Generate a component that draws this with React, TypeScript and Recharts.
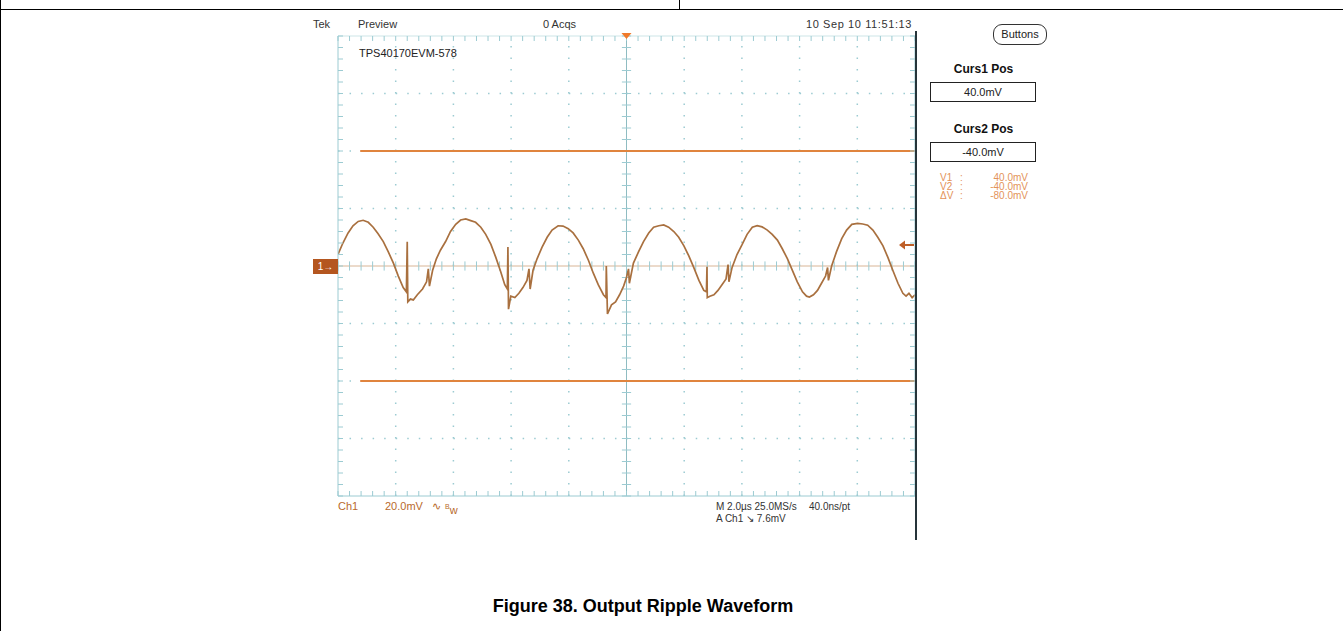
import { LineChart, Line, XAxis, YAxis, ReferenceLine, ReferenceDot } from "recharts";

// time (µs from left edge of screen, 2 µs/div) and ripple (mV, 20 mV/div)
const TIME_US = [
  0.0, 0.17, 0.35, 0.52, 0.7, 0.87, 1.05, 1.22, 1.39, 1.57, 1.74, 1.92, 2.09, 2.26, 2.37, 2.4, 2.42, 2.51, 2.61, 2.75,
  2.93, 3.07, 3.13, 3.17, 3.28, 3.41, 3.55, 3.73, 3.9, 4.08, 4.25, 4.43, 4.6, 4.77, 4.95, 5.12, 5.3, 5.47, 5.64, 5.78,
  5.87, 5.89, 5.91, 5.99, 6.13, 6.27, 6.41, 6.55, 6.62, 6.66, 6.76, 6.9, 7.07, 7.25, 7.42, 7.63, 7.8, 7.98, 8.15, 8.33,
  8.5, 8.68, 8.85, 9.02, 9.2, 9.29, 9.3, 9.34, 9.48, 9.62, 9.76, 9.9, 10.0, 10.07, 10.1, 10.24, 10.42, 10.59, 10.77,
  10.94, 11.12, 11.29, 11.46, 11.64, 11.81, 11.99, 12.16, 12.33, 12.51, 12.68, 12.77, 12.79, 12.8, 12.89, 13.03, 13.17,
  13.31, 13.45, 13.52, 13.55, 13.66, 13.83, 14.01, 14.18, 14.36, 14.53, 14.7, 14.88, 15.05, 15.23, 15.4, 15.58, 15.75,
  15.92, 16.1, 16.24, 16.34, 16.48, 16.62, 16.76, 16.9, 16.97, 17.0, 17.11, 17.28, 17.46, 17.63, 17.81, 18.01, 18.19,
  18.36, 18.54, 18.71, 18.89, 19.06, 19.23, 19.41, 19.58, 19.69, 19.79, 19.9, 20.0,
];
const RIPPLE_MV = [
  4.0, 8.0, 11.5, 14.0, 15.5, 15.9, 15.2, 13.5, 11.2, 8.5, 5.0, 1.0, -3.5, -7.5, -9.0, 8.4, -12.5, -11.5, -11.8, -10.0,
  -8.0, -5.5, -1.0, -7.0, -1.5, 2.5, 5.5, 8.5, 12.0, 14.5, 16.0, 16.4, 15.8, 15.2, 13.5, 11.0, 7.5, 3.0, -2.0, -6.5,
  -8.0, 6.6, -15.0, -10.5, -11.0, -9.5, -7.5, -5.0, -1.0, -8.0, -1.5, 2.5, 6.5, 10.0, 12.5, 14.0, 13.9, 13.0, 11.5, 9.0,
  6.0, 2.0, -2.5, -6.5, -10.0, -11.0, 0.0, -16.7, -13.5, -12.5, -10.0, -7.0, -4.0, -1.0, -6.0, 1.0, 5.0, 8.5, 11.5,
  13.5, 14.0, 14.3, 13.5, 12.0, 10.0, 7.0, 3.5, -0.5, -5.0, -8.5, -9.0, -0.3, -11.0, -10.5, -10.0, -8.5,
  -6.5, -4.5, 0.5, -5.5, -0.5, 4.0, 7.5, 11.0, 13.5, 14.0, 13.6, 12.5, 11.0, 9.0, 6.0, 2.5, -1.5,
  -5.5, -9.0, -10.5, -10.8, -10.0, -8.5, -6.0, -3.5, -0.5, -5.0, 0.0, 5.0, 9.5, 12.5, 14.5, 14.8, 14.6,
  14.2, 12.5, 10.0, 7.0, 3.0, -1.5, -6.0, -9.5, -10.5, -9.5, -11.0, -10.0,
];

const CURSORS_MV = [40, -40];
const CURSOR_START_US = 0.77;
const TRIGGER_US = 10;

const READOUT_LABELS = ["V1", "V2", "ΔV"];
const READOUT_VALUES = ["40.0mV", "-40.0mV", "-80.0mV"];

const X_DIVS = 10;
const Y_DIVS = 8;
const US_PER_DIV = 2;
const MV_PER_DIV = 20;
const MINOR = 5;

const X_MAX = X_DIVS * US_PER_DIV;
const Y_MAX = (Y_DIVS / 2) * MV_PER_DIV;
const MAJOR_T = Array.from({ length: X_DIVS + 1 }, (_, i) => i * US_PER_DIV);
const MAJOR_V = Array.from({ length: Y_DIVS + 1 }, (_, i) => -Y_MAX + i * MV_PER_DIV);
const MINOR_T = Array.from({ length: X_DIVS * MINOR + 1 }, (_, i) => (i * US_PER_DIV) / MINOR);
const MINOR_V = Array.from({ length: Y_DIVS * MINOR + 1 }, (_, i) => -Y_MAX + (i * MV_PER_DIV) / MINOR);

const data = TIME_US.map((t, i) => ({ t, v: RIPPLE_MV[i] }));

const GRID = "#9ccbd2";
const TRACE = "#a9703f";
const CURSOR = "#e0843e";
const FONT = "'Liberation Sans', Arial, sans-serif";

const noLabel = () => <g />;

function Txt({ x, y, children, color = "#333", size = 11, bold = false, style = {} }: any) {
  return (
    <div
      style={{
        position: "absolute",
        left: x,
        top: y,
        fontFamily: FONT,
        fontSize: size,
        lineHeight: `${size}px`,
        fontWeight: bold ? "bold" : "normal",
        color,
        whiteSpace: "nowrap",
        ...style,
      }}
    >
      {children}
    </div>
  );
}

function Box({ y, text }: { y: number; text: string }) {
  return (
    <div
      style={{
        position: "absolute",
        left: 930,
        top: y,
        width: 104,
        height: 18,
        border: "1.5px solid #222",
        fontFamily: FONT,
        fontSize: 11,
        lineHeight: "18px",
        textAlign: "center",
        color: "#222",
      }}
    >
      {text}
    </div>
  );
}

export default function App() {
  const tickX = (MV_PER_DIV / MINOR) * 0.4;
  const tickT = (US_PER_DIV / MINOR) * 0.4;
  return (
    <div style={{ position: "absolute", left: 0, top: 0, width: 1343, height: 631, background: "#fff", overflow: "hidden" }}>
      {/* page table borders */}
      <div style={{ position: "absolute", left: 0, top: 9, width: 1343, height: 1, background: "#000" }} />
      <div style={{ position: "absolute", left: 679, top: 0, width: 1, height: 9, background: "#000" }} />
      <div style={{ position: "absolute", left: 0, top: 0, width: 1, height: 631, background: "#000" }} />

      {/* scope header */}
      <Txt x={313} y={19}>Tek</Txt>
      <Txt x={358} y={19}>Preview</Txt>
      <Txt x={543} y={19}>0 Acqs</Txt>
      <Txt x={806} y={19} style={{ letterSpacing: 0.6 }}>10 Sep 10 11:51:13</Txt>

      <div style={{ position: "absolute", left: 300, top: 20 }}>
        <LineChart width={640} height={520} data={data} margin={{ top: 16, right: 25, bottom: 44, left: 38 }}>
          <XAxis
            xAxisId={0}
            type="number"
            dataKey="t"
            domain={[0, X_MAX]}
            ticks={MINOR_T}
            interval={0}
            orientation="bottom"
            mirror
            tickSize={5}
            tick={noLabel}
            axisLine={{ stroke: GRID }}
            tickLine={{ stroke: GRID }}
            allowDataOverflow
          />
          <XAxis
            xAxisId="top"
            type="number"
            dataKey="t"
            domain={[0, X_MAX]}
            ticks={MINOR_T}
            interval={0}
            orientation="top"
            mirror
            tickSize={5}
            tick={noLabel}
            axisLine={{ stroke: GRID, strokeOpacity: 0.5 }}
            tickLine={{ stroke: GRID }}
            allowDataOverflow
          />
          <YAxis
            yAxisId={0}
            type="number"
            dataKey="v"
            domain={[-Y_MAX, Y_MAX]}
            ticks={MINOR_V}
            interval={0}
            orientation="left"
            mirror
            tickSize={5}
            tick={noLabel}
            axisLine={{ stroke: GRID }}
            tickLine={{ stroke: GRID }}
            allowDataOverflow
          />
          <YAxis
            yAxisId="right"
            type="number"
            dataKey="v"
            domain={[-Y_MAX, Y_MAX]}
            ticks={MINOR_V}
            interval={0}
            orientation="right"
            mirror
            tickSize={5}
            tick={noLabel}
            axisLine={{ stroke: GRID }}
            tickLine={{ stroke: GRID }}
            allowDataOverflow
          />

          {/* dotted graticule */}
          {MAJOR_T.slice(1, -1)
            .filter((t) => t !== TRIGGER_US)
            .map((t) => (
              <ReferenceLine key={`gx${t}`} x={t} stroke={GRID} strokeWidth={1.5} strokeDasharray="1.5 10" />
            ))}
          {MAJOR_V.slice(1, -1)
            .filter((v) => v !== 0)
            .map((v) => (
              <ReferenceLine key={`gy${v}`} y={v} stroke={GRID} strokeWidth={1.5} strokeDasharray="1.5 10.04" />
            ))}

          {/* center cross with minor ticks */}
          <ReferenceLine x={TRIGGER_US} stroke="#8fbcc2" strokeWidth={1} />
          <ReferenceLine y={0} stroke="#d8b596" strokeWidth={1} />
          {MINOR_T.map((t) => (
            <ReferenceLine
              key={`cx${t}`}
              segment={[
                { x: t, y: -tickX },
                { x: t, y: tickX },
              ]}
              stroke={GRID}
            />
          ))}
          {MINOR_V.map((v) => (
            <ReferenceLine
              key={`cy${v}`}
              segment={[
                { x: TRIGGER_US - tickT, y: v },
                { x: TRIGGER_US + tickT, y: v },
              ]}
              stroke={GRID}
            />
          ))}

          {/* cursors */}
          {CURSORS_MV.map((c) => (
            <ReferenceLine
              key={`cur${c}`}
              segment={[
                { x: CURSOR_START_US, y: c },
                { x: X_MAX, y: c },
              ]}
              stroke={CURSOR}
              strokeWidth={2}
            />
          ))}

          <ReferenceDot
            x={TRIGGER_US}
            y={Y_MAX}
            r={4}
            shape={(p: any) => (
              <polygon
                points={`${p.cx - 5},${p.cy - 3} ${p.cx + 5},${p.cy - 3} ${p.cx},${p.cy + 3}`}
                fill="#f07a2a"
              />
            )}
          />

          <Line
            type="linear"
            dataKey="v"
            stroke={TRACE}
            strokeWidth={1.7}
            dot={false}
            isAnimationActive={false}
          />
        </LineChart>
      </div>

      <Txt x={359} y={48} color="#222">TPS40170EVM-578</Txt>

      {/* screen right edge */}
      <div style={{ position: "absolute", left: 915, top: 31, width: 2, height: 509, background: "#26343a" }} />

      {/* ground marker + trigger level arrow */}
      <div
        style={{
          position: "absolute",
          left: 313,
          top: 259,
          width: 25,
          height: 15,
          background: "#b4561f",
          color: "#fff",
          fontFamily: FONT,
          fontSize: 10,
          lineHeight: "15px",
          textAlign: "center",
        }}
      >
        1→
      </div>
      <svg style={{ position: "absolute", left: 899, top: 239 }} width={16} height={12}>
        <polygon points="0,6 6,1.5 6,10.5" fill="#bf5f28" />
        <line x1={5} y1={6} x2={15} y2={6} stroke="#bf5f28" strokeWidth={2} />
      </svg>

      {/* right panel */}
      <div
        style={{
          position: "absolute",
          left: 993,
          top: 24,
          width: 52,
          height: 19,
          border: "1px solid #333",
          borderRadius: 9,
          fontFamily: FONT,
          fontSize: 11,
          lineHeight: "19px",
          textAlign: "center",
          color: "#222",
        }}
      >
        Buttons
      </div>
      <Txt x={930} y={63} size={12} bold color="#111" style={{ width: 107, textAlign: "center" }}>Curs1 Pos</Txt>
      <Box y={82} text="40.0mV" />
      <Txt x={930} y={123} size={12} bold color="#111" style={{ width: 107, textAlign: "center" }}>Curs2 Pos</Txt>
      <Box y={142} text="-40.0mV" />
      {READOUT_LABELS.map((l, i) => (
        <div key={l}>
          <Txt x={940} y={173 + i * 9} size={10} color="#e3935a">{l}</Txt>
          <Txt x={960} y={173 + i * 9} size={10} color="#e3935a">:</Txt>
          <Txt x={968} y={173 + i * 9} size={10} color="#e3935a" style={{ width: 60, textAlign: "right" }}>
            {READOUT_VALUES[i]}
          </Txt>
        </div>
      ))}

      {/* bottom readouts */}
      <Txt x={338} y={501} color="#b86a2c">Ch1</Txt>
      <Txt x={385} y={501} color="#b86a2c">20.0mV</Txt>
      <Txt x={432} y={501} color="#b86a2c">∿</Txt>
      <Txt x={445} y={501} color="#b86a2c">
        <sup style={{ fontSize: 7 }}>B</sup>w
      </Txt>
      <Txt x={716} y={502} size={10}>M 2.0µs 25.0MS/s</Txt>
      <Txt x={809} y={502} size={10}>40.0ns/pt</Txt>
      <Txt x={716} y={514} size={10}>A  Ch1  ↘  7.6mV</Txt>

      <Txt x={443} y={597} size={18} bold color="#000" style={{ width: 400, textAlign: "center" }}>
        Figure 38. Output Ripple Waveform
      </Txt>
    </div>
  );
}
